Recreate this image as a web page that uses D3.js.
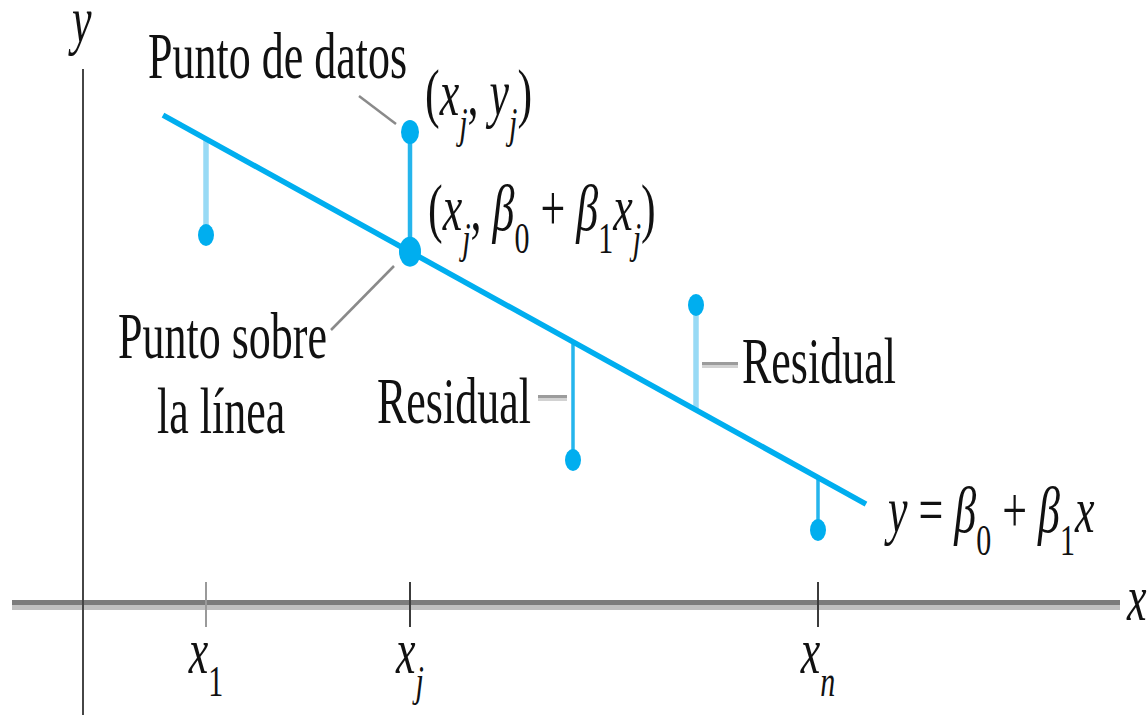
<!DOCTYPE html>
<html>
<head>
<meta charset="utf-8">
<script src="https://cdn.jsdelivr.net/npm/d3@7"></script>
<style>
  html, body { margin: 0; padding: 0; background: #fff; }
  svg { display: block; }
  text { font-family: "Liberation Serif", "Times New Roman", serif; fill: #111; }
</style>
</head>
<body>
<svg id="chart" width="1147" height="717"></svg>
<script>
// Observations (x_i, y_i)
const xValues = [6.15, 16.35, 24.5, 30.65, 36.75];
const yValues = [18.5, 23.65, 7.25, 15.0, 3.75];

// Fitted line y = b0 + b1 x and the span over which it is drawn
const beta0 = 26.71;
const beta1 = -0.5533;
const lineSpan = [4.0, 39.15];

// Labelled ticks on the x axis
const tickValues = [6.15, 16.35, 36.75];
const tickSubs = ["1", "j", "n"];

// Index of the highlighted observation (x_j, y_j)
const highlight = 1;

const svg = d3.select("#chart");

const x = d3.scaleLinear().domain([0, 50]).range([83, 1083]);
const y = d3.scaleLinear().domain([0, 25]).range([605, 105]);
const fit = v => beta0 + beta1 * v;

const CYAN = "#00aeef";
const RES_STRONG = "#25b5ec";
const RES_LIGHT = "#98daf5";

// ---- axes ----
// x axis: a thick two-tone rule
const xa = svg.append("g");
xa.append("line")
  .attr("x1", x(-3.55)).attr("x2", x(51.85))
  .attr("y1", y(0) - 2.5).attr("y2", y(0) - 2.5)
  .attr("stroke", "#7c7c7c").attr("stroke-width", 5);
xa.append("line")
  .attr("x1", x(-3.55)).attr("x2", x(51.85))
  .attr("y1", y(0) + 2.5).attr("y2", y(0) + 2.5)
  .attr("stroke", "#c0c0c0").attr("stroke-width", 5);

// y axis
svg.append("line")
  .attr("x1", x(0)).attr("x2", x(0))
  .attr("y1", y(26.8)).attr("y2", y(-5.5))
  .attr("stroke", "#464646").attr("stroke-width", 2);

// ticks crossing the x axis
svg.append("g").selectAll("line")
  .data(tickValues)
  .join("line")
  .attr("x1", d => x(d)).attr("x2", d => x(d))
  .attr("y1", y(0) - 23).attr("y2", y(0) + 22)
  .attr("stroke", (d, i) => i === 0 ? "#9a9a9a" : "#3c3c3c")
  .attr("stroke-width", 2);

// Builds a text element with italic/roman runs and subscripts,
// stretched vertically like the rest of the lettering.
function mathText(px, py, parts, anchor) {
  const g = svg.append("g")
    .attr("transform", `translate(${px},${py}) scale(1,1.5)`);
  const t = g.append("text")
    .attr("font-size", 44)
    .attr("text-anchor", anchor || "start");
  let shifted = 0;
  parts.forEach(([str, kind]) => {
    const isSub = kind === "sub" || kind === "isub";
    const target = isSub ? 15 : 0;
    t.append("tspan").text(str)
      .attr("dy", target - shifted)
      .attr("font-size", isSub ? 30 : 44)
      .attr("font-style", (kind === "i" || kind === "isub") ? "italic" : "normal");
    shifted = target;
  });
  return t;
}

// tick labels x_1, x_j, x_n
tickValues.forEach((v, i) => {
  mathText(x(v), 673, [["x", "i"], [tickSubs[i], i === 0 ? "sub" : "isub"]], "middle");
});

// axis names
mathText(1127, 620, [["x", "i"]]);
mathText(72, 42, [["y", "i"]]);

// ---- residuals ----
svg.append("g").selectAll("line")
  .data(xValues.map((v, i) => ({ x: v, y: yValues[i], i })))
  .join("line")
  .attr("x1", d => x(d.x)).attr("x2", d => x(d.x))
  .attr("y1", d => y(fit(d.x))).attr("y2", d => y(d.y))
  .attr("stroke", d => (d.i === 0 || d.i === 3) ? RES_LIGHT : RES_STRONG)
  .attr("stroke-width", d => (d.i === 0 || d.i === 3) ? 5.5 : (d.i === highlight ? 4.5 : 3.5));

// ---- fitted line ----
svg.append("path")
  .datum(lineSpan)
  .attr("d", d3.line().x(d => x(d)).y(d => y(fit(d))))
  .attr("stroke", CYAN).attr("stroke-width", 5.5).attr("fill", "none");

// ---- observations ----
svg.append("g").selectAll("ellipse")
  .data(xValues.map((v, i) => ({ x: v, y: yValues[i], i })))
  .join("ellipse")
  .attr("cx", d => x(d.x)).attr("cy", d => y(d.y))
  .attr("rx", d => d.i === highlight ? 9 : 8)
  .attr("ry", d => d.i === highlight ? 12 : 11)
  .attr("fill", CYAN);

// point on the line at x_j
svg.append("ellipse")
  .attr("cx", x(xValues[highlight]))
  .attr("cy", y(fit(xValues[highlight])))
  .attr("rx", 11).attr("ry", 15)
  .attr("fill", CYAN);

// ---- annotations ----
const leader = svg.append("g")
  .attr("stroke", "#8a8a8a").attr("stroke-width", 2.5).attr("fill", "none");
leader.append("line").attr("x1", 359).attr("y1", 96).attr("x2", 396).attr("y2", 124);
leader.append("line").attr("x1", 331).attr("y1", 330).attr("x2", 394).attr("y2", 266);

// dashes linking the "Residual" labels to their segments
[[538, 567, 398], [702, 738, 365]].forEach(([a, b, yy]) => {
  svg.append("line").attr("x1", a).attr("x2", b).attr("y1", yy - 1.5).attr("y2", yy - 1.5)
    .attr("stroke", "#9c9c9c").attr("stroke-width", 3);
  svg.append("line").attr("x1", a).attr("x2", b).attr("y1", yy + 1.5).attr("y2", yy + 1.5)
    .attr("stroke", "#d2d2d2").attr("stroke-width", 3);
});

mathText(148, 78, [["Punto de datos", "r"]]);
mathText(118, 358, [["Punto sobre", "r"]]);
mathText(157, 433, [["la línea", "r"]]);
mathText(377, 423, [["Residual", "r"]]);
mathText(742, 383, [["Residual", "r"]]);

mathText(425, 115, [["(", "r"], ["x", "i"], ["j", "isub"], [", ", "r"], ["y", "i"], ["j", "isub"], [")", "r"]]);
mathText(428, 230, [["(", "r"], ["x", "i"], ["j", "isub"], [", ", "r"], ["β", "i"], ["0", "sub"],
  [" + ", "r"], ["β", "i"], ["1", "sub"], ["x", "i"], ["j", "isub"], [")", "r"]]);
mathText(888, 532, [["y", "i"], [" = ", "r"], ["β", "i"], ["0", "sub"], [" + ", "r"], ["β", "i"], ["1", "sub"], ["x", "i"]]);
</script>
</body>
</html>
